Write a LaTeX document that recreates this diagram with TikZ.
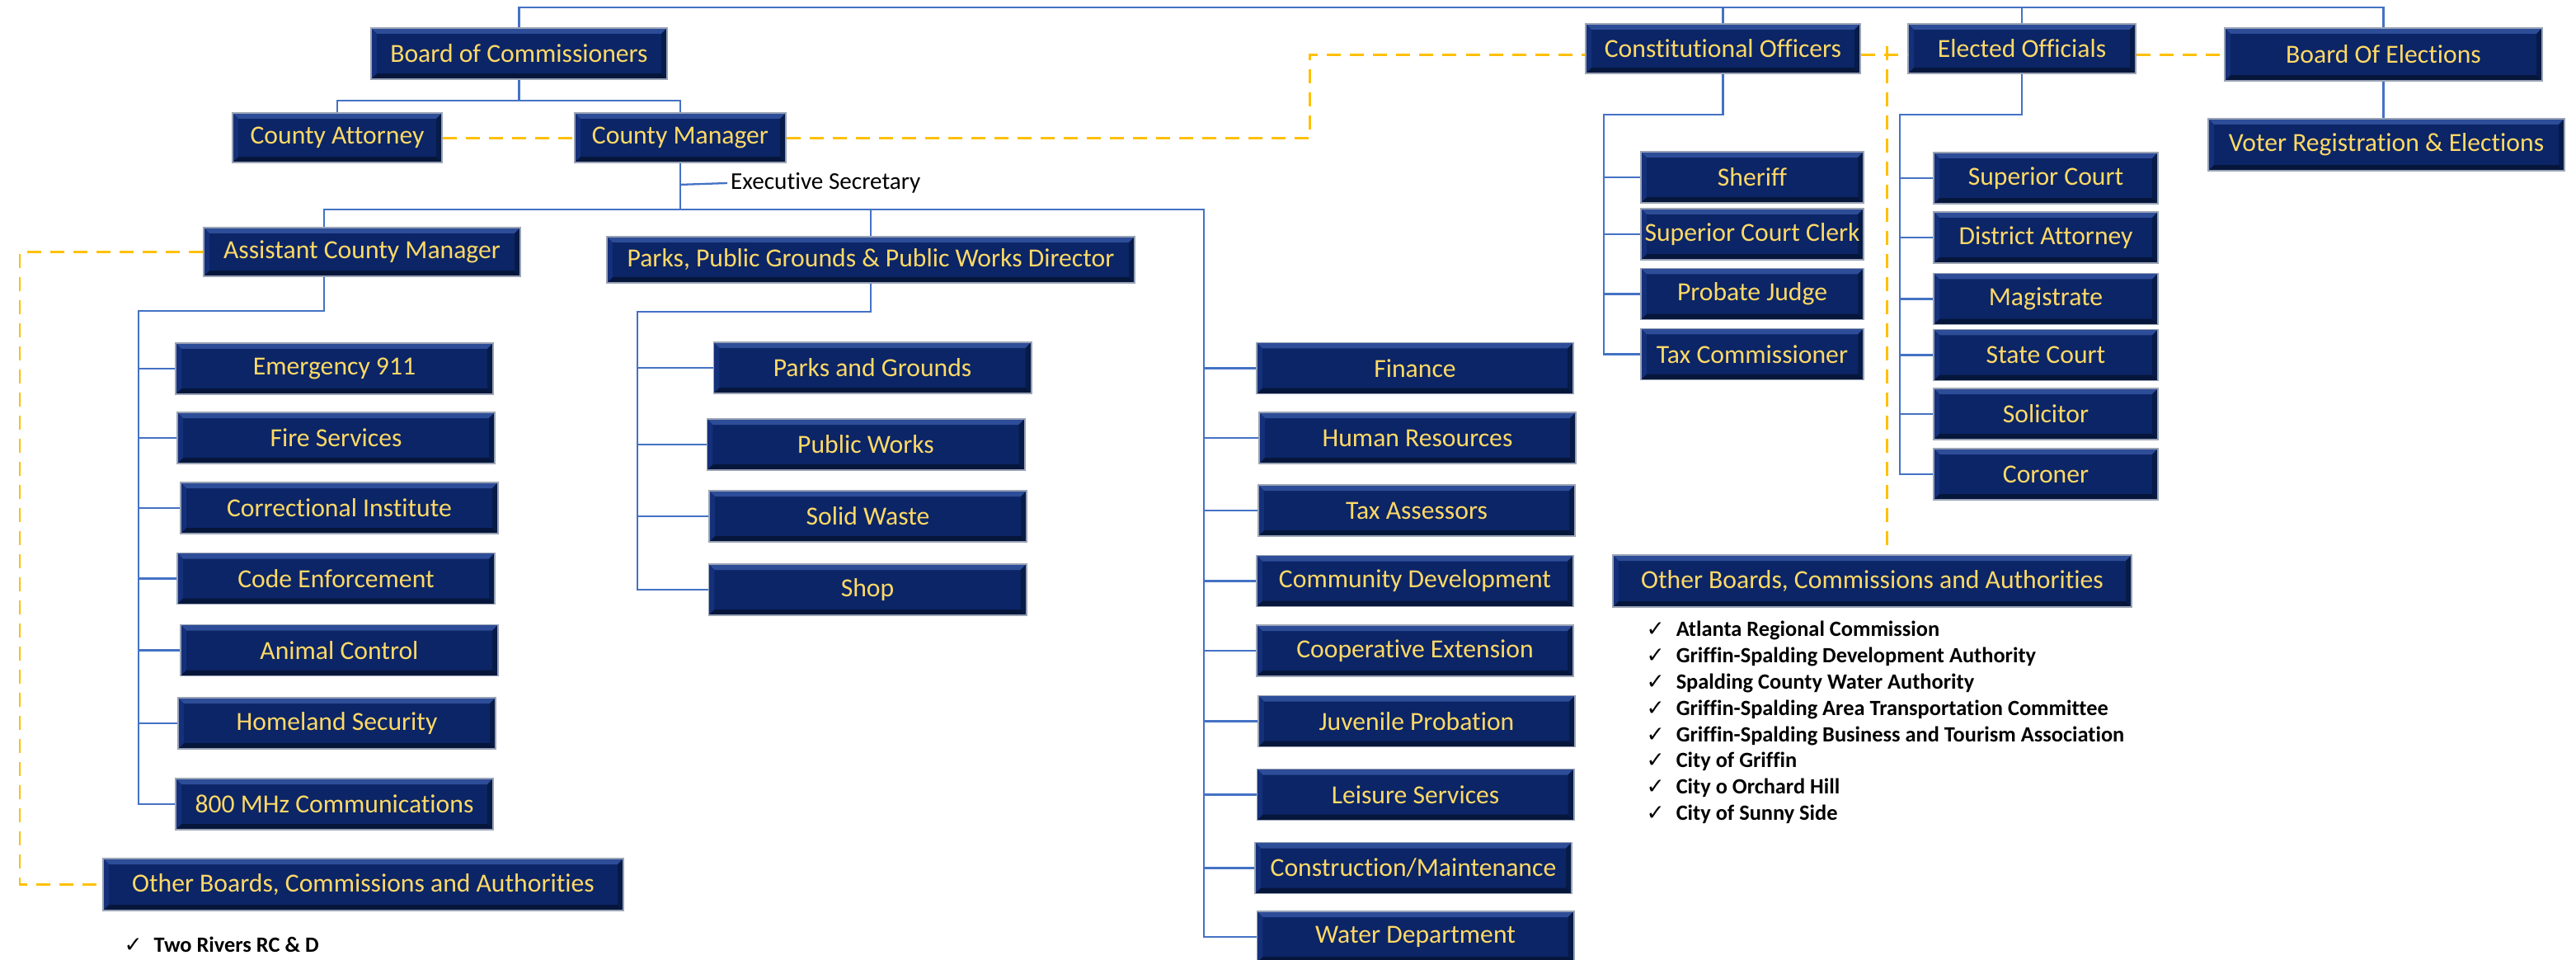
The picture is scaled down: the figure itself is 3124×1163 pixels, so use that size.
\documentclass[tikz,border=0pt]{standalone}
\usepackage{fontspec}
\setmainfont{Carlito}[Ligatures=NoCommon]
\setsansfont{Carlito}[Ligatures=NoCommon]
\newfontfamily\chkfont{DejaVu Sans}
\usepackage{tikz}
\usetikzlibrary{positioning}

\definecolor{boxfill}{HTML}{0B2566}
\definecolor{boxlight}{HTML}{2E4D98}
\definecolor{boxdark}{HTML}{06163B}
\definecolor{boxside}{HTML}{15307A}
\definecolor{boxline}{HTML}{9AA3B5}
\definecolor{boxtext}{HTML}{FFD966}
\definecolor{linkblue}{HTML}{4472C4}
\definecolor{tieorange}{HTML}{FFC000}

\newcommand{\tick}{\makebox[0.36cm][l]{\chkfont\mdseries ✓}}

\tikzset{
  unit/.style={draw=boxline, line width=0.5pt, fill=boxfill, text=boxtext,
    font=\sffamily\fontsize{9}{10}\selectfont, inner sep=0pt, minimum height=0.62cm,
    path picture={
      \path (path picture bounding box.north west) coordinate (onw)
            (path picture bounding box.north east) coordinate (one)
            (path picture bounding box.south east) coordinate (ose)
            (path picture bounding box.south west) coordinate (osw)
            ([shift={(0.07cm,-0.07cm)}]path picture bounding box.north west) coordinate (inw)
            ([shift={(-0.07cm,-0.07cm)}]path picture bounding box.north east) coordinate (ine)
            ([shift={(-0.07cm,0.07cm)}]path picture bounding box.south east) coordinate (ise)
            ([shift={(0.07cm,0.07cm)}]path picture bounding box.south west) coordinate (isw);
      \fill[boxlight] (onw) -- (one) -- (ine) -- (inw) -- cycle;
      \fill[boxdark] (osw) -- (ose) -- (ise) -- (isw) -- cycle;
      \fill[boxside] (onw) -- (osw) -- (isw) -- (inw) -- cycle;
      \fill[boxdark!70!boxfill] (one) -- (ose) -- (ise) -- (ine) -- cycle;
    }},
  link/.style={draw=linkblue, line width=0.65pt},
  tie/.style={draw=tieorange, line width=0.85pt, dash pattern=on 0.17cm off 0.11cm},
  note/.style={font=\sffamily\fontsize{8.3}{10}\selectfont, inner sep=1pt, anchor=west},
  item/.style={font=\sffamily\bfseries\fontsize{7.5}{9}\selectfont, inner sep=0pt, anchor=west},
}

\begin{document}
\begin{tikzpicture}[x=0.01cm, y=-0.01cm, font=\sffamily]

% Page size
\useasboundingbox (0,0) rectangle (3124,1163);

% Helper columns for the trunk lines
\coordinate (ac) at (393,0);
\coordinate (ax) at (168,0);
\coordinate (px) at (773,0);
\coordinate (dx) at (1460,0);
\coordinate (cx) at (1945,0);
\coordinate (ex) at (2304,0);
\coordinate (lft) at (24,0);
\coordinate (bend) at (1588,66);
\coordinate (vtop) at (2288,56);

% Board, attorney, manager
\node[unit, minimum width=3.59cm] (boc) at (629.5,65) {Board of Commissioners};
\node[unit, minimum width=2.54cm, minimum height=0.6cm] (att) at (409,167) {County Attorney};
\node[unit, minimum width=2.56cm, minimum height=0.6cm] (mgr) at (825,167) {County Manager};
\node[note] (exsec) at (882,222) {Executive Secretary};

% Top right groups
\node[unit, minimum width=3.33cm, minimum height=0.6cm] (co) at (2089.5,59) {Constitutional Officers};
\node[unit, minimum width=2.76cm, minimum height=0.6cm] (eo) at (2452,59) {Elected Officials};
\node[unit, minimum width=3.85cm, minimum height=0.64cm] (boe) at (2890.5,66) {Board Of Elections};
\node[unit, minimum width=4.32cm, minimum height=0.63cm] (vre) at (2894,175.5) {Voter Registration \& Elections};

% Constitutional officers
\foreach \n/\y/\t in {sher/215/Sheriff, scc/284/Superior Court Clerk,
    prob/356.5/Probate Judge, taxc/429.5/Tax Commissioner}
  \node[unit, minimum width=2.7cm] (\n) at (2125,\y) {\t};

% Elected officials
\foreach \n/\y/\t in {supc/216/Superior Court, da/288/District Attorney,
    mag/362.5/Magistrate, stc/430.5/State Court, sol/502/Solicitor, cor/575/Coroner}
  \node[unit, minimum width=2.72cm] (\n) at (2481,\y) {\t};

% Other boards (right)
\node[unit, minimum width=6.29cm, minimum height=0.63cm] (obr) at (2270.5,704.5) {Other Boards, Commissions and Authorities};
\foreach \t [count=\i] in {Atlanta Regional Commission,
    Griffin-Spalding Development Authority, Spalding County Water Authority,
    Griffin-Spalding Area Transportation Committee,
    Griffin-Spalding Business and Tourism Association,
    City of Griffin, City o Orchard Hill, City of Sunny Side}
  \node[item] (orb\i) at (1996,{733+31.8*\i}) {\tick\t};

% Assistant county manager
\node[unit, minimum width=3.84cm, minimum height=0.59cm] (acm) at (439,305.5) {Assistant County Manager};
\foreach \n/\x/\y/\t in {e911/405.5/447/Emergency 911, fire/407.5/531/Fire Services,
    corr/411.5/616/Correctional Institute, code/407.5/701.5/Code Enforcement,
    anim/411.5/788.5/Animal Control, home/408.5/877/Homeland Security,
    mhz/405.5/975/800 MHz Communications}
  \node[unit, minimum width=3.85cm] (\n) at (\x,\y) {\t};

% Other boards (left)
\node[unit, minimum width=6.31cm, minimum height=0.63cm] (obl) at (440.5,1072.5) {Other Boards, Commissions and Authorities};
\node[item] (olb1) at (150,1145) {\tick Two Rivers RC \& D};

% Parks director
\node[unit, minimum width=6.4cm, minimum height=0.56cm] (pd) at (1056,315) {Parks, Public Grounds \& Public Works Director};
\foreach \n/\x/\y/\t in {pg/1058/446/Parks and Grounds, pw/1050/539/Public Works,
    solw/1052.5/626/Solid Waste, shop/1052/715/Shop}
  \node[unit, minimum width=3.85cm] (\n) at (\x,\y) {\t};

% Departments
\foreach \n/\x/\y/\t in {fin/1716/446.5/Finance, hr/1719/531/Human Resources,
    tax/1718/619/Tax Assessors, cd/1716/704.5/Community Development,
    ce/1716/789/Cooperative Extension, jp/1718/874.5/Juvenile Probation,
    ls/1716.5/963.5/Leisure Services, cm/1714/1052.5/{Construction/Maintenance},
    wd/1716.5/1136/Water Department}
  \node[unit, minimum width=3.84cm] (\n) at (\x,\y) {\t};

% Top line
\draw[link] (boc.north) -- ++(0,-24) coordinate (top) -| (boe.north);
\draw[link] (co.north) -- (co.north |- top);
\draw[link] (eo.north) -- (eo.north |- top);
\draw[link] (boe.south) -- (boe.south |- vre.north);

% Board to attorney and manager
\draw[link] (boc.south) -- ++(0,25) coordinate (bj);
\draw[link] (att.north) |- (bj) -| (mgr.north);

% Manager trunk
\draw[link] (mgr.south) -- ++(0,26) coordinate (es) -- ++(0,30) coordinate (mj);
\draw[link] (es) -- (exsec.west);
\draw[link] (acm.north -| ac) |- (dx |- mj) -- (dx |- wd.west) -- (wd.west);
\draw[link] (pd.north) -- (pd.north |- mj);
\foreach \n in {fin,hr,tax,cd,ce,jp,ls,cm}
  \draw[link] (\n.west) -- (\n.west -| dx);

% Assistant manager branch
\draw[link] (acm.south -| ac) -- ++(0,41) -| (ax |- mhz.west) -- (mhz.west);
\foreach \n in {e911,fire,corr,code,anim,home}
  \draw[link] (\n.west) -- (\n.west -| ax);

% Parks branch
\draw[link] (pd.south) -- ++(0,34) -| (px |- shop.west) -- (shop.west);
\foreach \n in {pg,pw,solw}
  \draw[link] (\n.west) -- (\n.west -| px);

% Constitutional and elected branches
\draw[link] (co.south) -- ++(0,49) -| (cx |- taxc.west) -- (taxc.west);
\foreach \n in {sher,scc,prob}
  \draw[link] (\n.west) -- (\n.west -| cx);
\draw[link] (eo.south) -- ++(0,49) -| (ex |- cor.west) -- (cor.west);
\foreach \n in {supc,da,mag,stc,sol}
  \draw[link] (\n.west) -- (\n.west -| ex);

% Dashed ties
\draw[tie] (att) -- (mgr);
\draw[tie] (mgr.east) -| (bend) -- (bend -| co.west);
\draw[tie] (co.east |- bend) -- (eo.west |- bend);
\draw[tie] (eo.east |- bend) -- (boe.west |- bend);
\draw[tie] (vtop) -- (vtop |- obr.north);
\draw[tie] (acm.west) -- (acm.west -| lft) |- (obl.west);

\end{tikzpicture}
\end{document}
